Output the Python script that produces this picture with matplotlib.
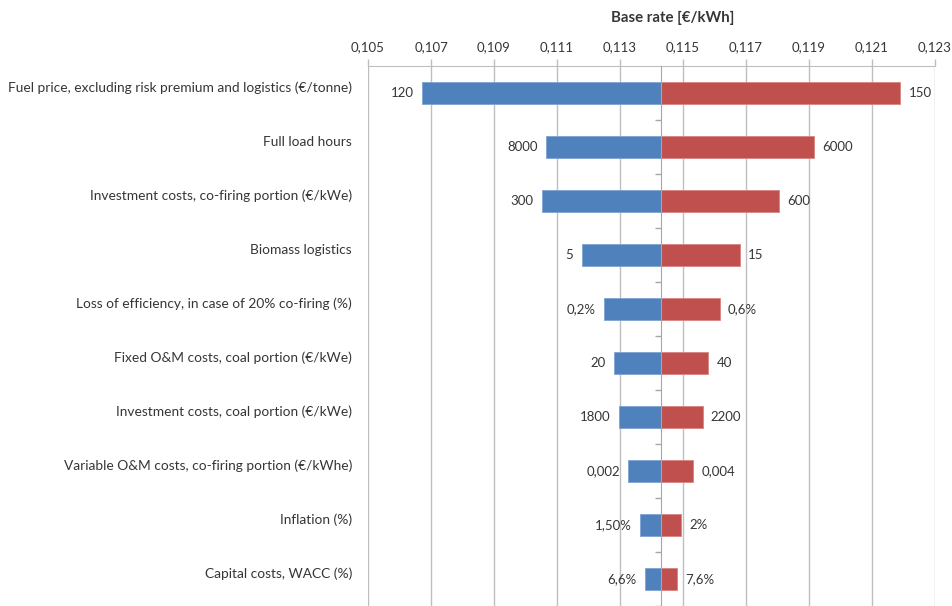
import numpy as np
import matplotlib.pyplot as plt
import matplotlib.transforms as mtransforms

plt.rcParams['font.family'] = ['Lato', 'DejaVu Sans']

# sensitivity of base rate (EUR/kWh) to each parameter
categories = [
    'Fuel price, excluding risk premium and logistics (\u20ac/tonne)',
    'Full load hours',
    'Investment costs, co-firing portion (\u20ac/kWe)',
    'Biomass logistics',
    'Loss of efficiency, in case of 20% co-firing (%)',
    'Fixed O&M costs, coal portion (\u20ac/kWe)',
    'Investment costs, coal portion (\u20ac/kWe)',
    'Variable O&M costs, co-firing portion (\u20ac/kWhe)',
    'Inflation (%)',
    'Capital costs, WACC (%)',
]
base_rate = 0.1143
low_rate = [0.10672, 0.11065, 0.11052, 0.11178, 0.11249,
            0.11280, 0.11296, 0.11326, 0.11364, 0.11380]
high_rate = [0.12189, 0.11915, 0.11806, 0.11681, 0.11616,
             0.11580, 0.11562, 0.11532, 0.11494, 0.11482]
low_labels = ['120', '8000', '300', '5', '0,2%', '20', '1800', '0,002', '1,50%', '6,6%']
high_labels = ['150', '6000', '600', '15', '0,6%', '40', '2200', '0,004', '2%', '7,6%']
xticks = np.arange(0.105, 0.1231, 0.002)

txt = '#363636'
grid = '#BFBFBF'
blue = '#4F81BD'
red = '#C0504D'

fig = plt.figure(figsize=(9.52, 6.06), dpi=100)
ax = fig.add_axes([368 / 952, 0.0, (935 - 368) / 952, 1 - 66 / 606])

y = np.arange(len(categories))
low = np.array(low_rate) - base_rate
high = np.array(high_rate) - base_rate
ax.barh(y, low, left=base_rate, height=0.4, color=blue, edgecolor='#7FA3D3', linewidth=0.6, zorder=3)
ax.barh(y, high, left=base_rate, height=0.4, color=red, edgecolor='#D98583', linewidth=0.6, zorder=3)

for i in range(len(categories)):
    ax.annotate(low_labels[i], (low_rate[i], y[i]), xytext=(-6, 0), textcoords='offset points',
                ha='right', va='center', fontsize=9.5, color=txt)
    ax.annotate(high_labels[i], (high_rate[i], y[i]), xytext=(6, 0), textcoords='offset points',
                ha='left', va='center', fontsize=9.5, color=txt)

# category names left of the plot area
trans = mtransforms.blended_transform_factory(ax.transAxes, ax.transData)
for i, name in enumerate(categories):
    ax.text(-0.028, y[i] - 0.1, name, transform=trans, ha='right', va='center',
            fontsize=9.9, color=txt)

ax.set_xlim(0.105, 0.123)
ax.set_ylim(len(categories) - 0.5, -0.5)
ax.xaxis.tick_top()
ax.set_xticks(xticks)
ax.set_xticklabels([('%.3f' % v).replace('.', ',') for v in xticks])
ax.tick_params(axis='x', colors=grid, labelcolor=txt, labelsize=9.5, length=5, width=1, pad=4)
ax.grid(axis='x', color=grid, linewidth=1, zorder=0)

# vertical category axis sits at the base rate
ax.spines['left'].set_position(('data', base_rate))
ax.spines['left'].set_color('#A6A6A6')
ax.spines['left'].set_zorder(4)
ax.set_yticks(np.arange(0.5, len(categories), 1.0))
ax.tick_params(axis='y', colors='#A6A6A6', labelleft=False, length=4, width=1, direction='out')
ax.spines['top'].set_color(grid)
ax.spines['right'].set_visible(False)
ax.spines['bottom'].set_visible(False)

fig.text(673 / 952, 1 - 18 / 606, 'Base rate [\u20ac/kWh]', ha='center', va='center',
         fontsize=10.8, fontweight='bold', color=txt)

fig.savefig('out.png', dpi=100)
